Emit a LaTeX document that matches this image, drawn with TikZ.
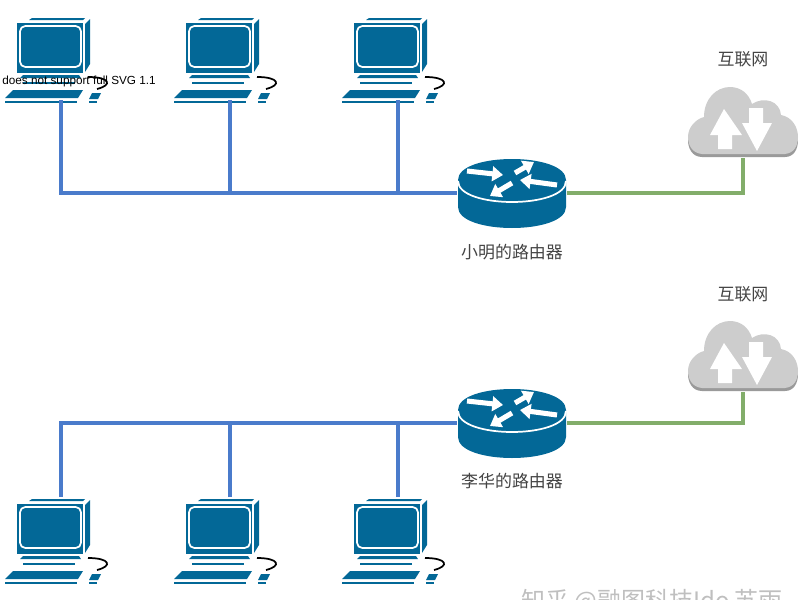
\documentclass[tikz,border=0pt]{standalone}
\usepackage{fontspec}
\setmainfont{Liberation Sans}
\newfontfamily\cjk{Noto Sans CJK SC}
\usetikzlibrary{arrows.meta}
\definecolor{devblue}{HTML}{036897}
\definecolor{lanblue}{HTML}{4A7BCB}
\definecolor{wangreen}{HTML}{82AD6A}
\definecolor{cloudgray}{HTML}{CDCDCD}
\definecolor{cloudedge}{HTML}{9A9A9A}
\definecolor{labelgray}{HTML}{444444}
\begin{document}
\begin{tikzpicture}[
    x=0.75pt,
    y=-0.75pt,
    lan/.style={
        draw=lanblue,
        line width=2.4pt
    },
    wan/.style={
        draw=wangreen,
        line width=2.4pt
    },
    label/.style={
        font=\cjk\fontsize{12.7}{15}\selectfont,
        text=labelgray
    },
    flow/.style={
        draw=white,
        line width=3.8pt,
        -{Triangle[width=11pt,length=8pt]}
    },
    pics/computer/.style={
        code={
            \coordinate (-top) at (44,-7);
            \coordinate (-bottom) at (44,77);
            \fill[devblue] (0,0) rectangle (66,50);
            \draw[white,line width=1.3pt,rounded corners=4pt] (3,3) rectangle (64,44);
            \fill[devblue] (15,-5) -- (68,-5) -- (66,-3) -- (12,-3) -- cycle;
            \fill[devblue] (68,1) -- (73,-4) -- (73,41) -- (68,49) -- cycle;
            \fill[devblue] (6,52) -- (62,52) -- (64,55) -- (3,55) -- cycle;
            \fill[devblue] (6,59) -- (58,59) -- (58,61) -- (6,61) -- cycle;
            \fill[devblue] (-4,67) -- (66,67) -- (61,75) -- (-12,75) -- cycle;
            \fill[devblue] (-12,78) -- (60,78) -- (60,79.5) -- (-12,79.5) -- cycle;
            \fill[devblue] (75,70) -- (84,70) -- (81,76) -- (72,76) -- cycle;
            \fill[devblue] (72,78) -- (80,78) -- (80,79.5) -- (72,79.5) -- cycle;
            \draw[black,line width=1.3pt] (71,54) .. controls (93,54) and (96,62) .. (80,66);
        }
    },
    pics/router/.style={
        code={
            \coordinate (-west) at (-55,13);
            \coordinate (-east) at (55,13);
            \fill[devblue] (-54,0) -- (-54,27) .. controls (-54,55) and (54,55) .. (54,27)
                -- (54,0) .. controls (54,-28) and (-54,-28) .. (-54,0) -- cycle;
            \draw[white,line width=1.3pt] (-54,1) .. controls (-54,29) and (54,29) .. (54,1);
            \draw[flow] (-45,-9) -- (-9,-5);
            \draw[flow] (3,-7) -- (22,-18);
            \draw[flow] (45,5) -- (8,0);
            \draw[flow] (0,3) -- (-22,16);
        }
    },
    pics/cloud/.style={
        code={
            \coordinate (-bottom) at (55,71);
            \fill[cloudedge] (14,70) .. controls (4,70) and (0,61) .. (0,53)
                .. controls (0,42) and (8,35) .. (18,33) -- (14,66) -- (97,66)
                -- (110,53) .. controls (110,62) and (106,70) .. (97,70) -- cycle;
            \fill[cloudgray] (14,67) .. controls (4,66) and (0,58) .. (0,50)
                .. controls (0,40) and (8,32) .. (16,30)
                .. controls (16,12) and (28,0) .. (42,0)
                .. controls (53,0) and (61,7) .. (64,17)
                .. controls (76,9) and (92,14) .. (93,28)
                .. controls (104,30) and (110,40) .. (110,50)
                .. controls (110,59) and (106,66) .. (97,67) -- cycle;
            \fill[white] (36,22) -- (54,48) -- (44,48) -- (44,62) -- (30,62) -- (30,48) -- (22,48) -- cycle;
            \fill[white] (61,21) -- (75,21) -- (75,36) -- (84,36) -- (69,64) -- (54,36) -- (61,36) -- cycle;
        }
    }
]

\useasboundingbox (0,0) rectangle (800,600);

\pic (pca) at (17,23) {computer};
\pic (pcb) at (186,23) {computer};
\pic (pcc) at (354,23) {computer};
\pic (pcd) at (17,504) {computer};
\pic (pce) at (186,504) {computer};
\pic (pcf) at (354,504) {computer};

\pic (xiaoming) at (512,180) {router};
\pic (lihua) at (512,410) {router};
\pic (clouda) at (688,87) {cloud};
\pic (cloudb) at (688,321) {cloud};

\node[label] (neta) at (743,59) {互联网};
\node[label] (netb) at (743,294) {互联网};
\node[label] (xiaominglabel) at (512,252) {小明的路由器};
\node[label] (lihualabel) at (512,481) {李华的路由器};
\node[font=\fontsize{8.8}{11}\selectfont,text=black] (svgnote) at (79,81) {does not support full SVG 1.1};
\node[font=\cjk\fontsize{18}{21}\selectfont,text=black!25] (mark) at (652,601) {知乎 @融图科技Ido 苏雨};

\draw[lan] (pca-bottom) |- (xiaoming-west);
\draw[lan] (pcb-bottom) -- (pcb-bottom |- xiaoming-west);
\draw[lan] (pcc-bottom) -- (pcc-bottom |- xiaoming-west);
\draw[wan] (xiaoming-east) -| (clouda-bottom);

\draw[lan] (pcd-top) |- (lihua-west);
\draw[lan] (pce-top) -- (pce-top |- lihua-west);
\draw[lan] (pcf-top) -- (pcf-top |- lihua-west);
\draw[wan] (lihua-east) -| (cloudb-bottom);

\end{tikzpicture}
\end{document}
